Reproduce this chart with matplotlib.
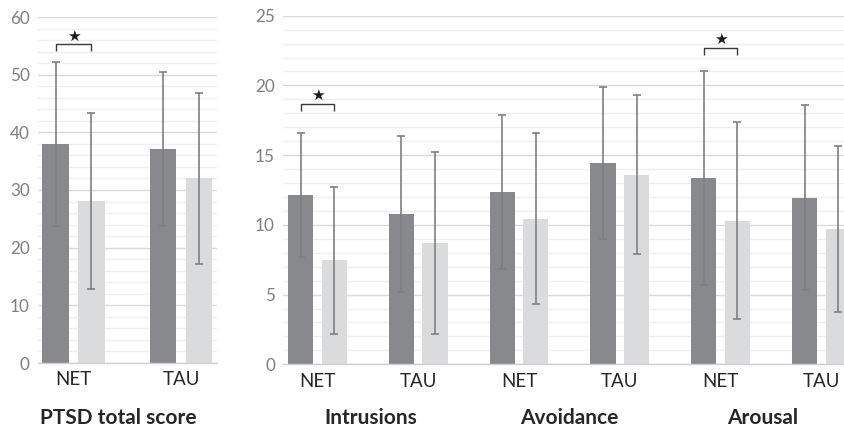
import matplotlib
matplotlib.use("Agg")
import matplotlib.pyplot as plt
import numpy as np

plt.rcParams['font.family'] = ['Lato', 'DejaVu Sans']

# ---- data ----
groups = ["NET", "TAU"]
# PTSD total score
total_dark = [38.0, 37.1]
total_dark_sd = [14.2, 13.4]
total_light = [28.1, 32.0]
total_light_sd = [15.2, 14.9]

# Subscales: Intrusions, Avoidance, Arousal (each NET, TAU)
sub_titles = ["Intrusions", "Avoidance", "Arousal"]
sub_cats = ["NET", "TAU", "NET", "TAU", "NET", "TAU"]
sub_dark = [12.15, 10.8, 12.35, 14.45, 13.35, 11.95]
sub_dark_sd = [4.45, 5.6, 5.55, 5.43, 7.66, 6.63]
sub_light = [7.45, 8.72, 10.45, 13.6, 10.3, 9.7]
sub_light_sd = [5.28, 6.53, 6.12, 5.7, 7.07, 5.92]

# significance brackets: (category index, bracket top, tip bottom, star y)
total_sig = [(0, 55.3, 54.1, 56.7)]
sub_sig = [(0, 18.65, 18.2, 19.3), (4, 22.67, 22.19, 23.3)]

DARK = "#87898c"
LIGHT = "#dadbdd"
ERR = "#7f7f7f"
MAJ = "#d9d9d9"
MIN = "#efefef"
TICKC = "#7f7f7f"
TXT = "#262626"

W = 0.25
OFF = 0.167

fig = plt.figure(figsize=(8.45, 4.3), dpi=100)


def style(ax, ymax, major, minor):
    ax.set_ylim(0, ymax)
    ax.set_yticks(np.arange(0, ymax + 0.01, major))
    ax.set_yticks(np.arange(0, ymax + 0.01, minor), minor=True)
    ax.grid(which='major', axis='y', color=MAJ, lw=1.0, zorder=0)
    ax.grid(which='minor', axis='y', color=MIN, lw=1.0, zorder=0)
    ax.set_axisbelow(True)
    for s in ['top', 'right', 'left']:
        ax.spines[s].set_visible(False)
    ax.spines['bottom'].set_color("#d0d0d0")
    ax.spines['bottom'].set_linewidth(1.0)
    ax.tick_params(axis='y', which='both', length=0, pad=6, labelsize=12.3, labelcolor=TICKC)
    ax.tick_params(axis='x', length=0, pad=6, labelsize=13.5, labelcolor=TXT)


def draw(ax, cats, dark, dsd, light, lsd, sig, ymax):
    x = np.arange(len(cats))
    ekw = dict(ecolor=ERR, elinewidth=1.2, capsize=2.6, capthick=1.2)
    ax.bar(x - OFF, dark, W, color=DARK, zorder=2)
    ax.bar(x + OFF, light, W, color=LIGHT, zorder=2)
    ax.errorbar(x - OFF, dark, yerr=dsd, fmt='none', zorder=3, **ekw)
    ax.errorbar(x + OFF, light, yerr=lsd, fmt='none', zorder=3, **ekw)
    ax.set_xticks(x)
    ax.set_xticklabels(cats)
    for (i, top, tip, sy) in sig:
        x0, x1 = i - OFF, i + OFF
        ax.plot([x0, x0, x1, x1], [tip, top, top, tip], color="#3a3a3a", lw=1.0,
                zorder=4, clip_on=False, solid_capstyle='butt')
        ax.text(i, sy, "★", ha='center', va='center', fontsize=11, color="#1a1a1a",
                family=['DejaVu Sans'], zorder=4)


# left panel
ax1 = fig.add_axes([38 / 845, 67 / 430, 179 / 845, 346 / 430])
style(ax1, 60, 10, 2)
draw(ax1, groups, total_dark, total_dark_sd, total_light, total_light_sd, total_sig, 60)
ax1.set_xlim(-0.33, 1.335)

# right panel
ax2 = fig.add_axes([283.3 / 845, 65.7 / 430, 561.7 / 845, 348.6 / 430])
style(ax2, 25, 5, 1)
draw(ax2, sub_cats, sub_dark, sub_dark_sd, sub_light, sub_light_sd, sub_sig, 25)
ax2.set_xlim(-0.338, 5.234)

# group titles
title_shift = [0.03, 0.0, -0.08]
fig.text(118 / 845, 12 / 430, "PTSD total score", ha='center', va='center',
         fontsize=15, fontweight='bold', color=TXT)
for k, t in enumerate(sub_titles):
    ax2.text(2 * k + 0.5 + title_shift[k], 12 / 430, t, ha='center', va='center', fontsize=15,
             fontweight='bold', color=TXT,
             transform=matplotlib.transforms.blended_transform_factory(ax2.transData, fig.transFigure))

fig.savefig("out.png", dpi=100)
